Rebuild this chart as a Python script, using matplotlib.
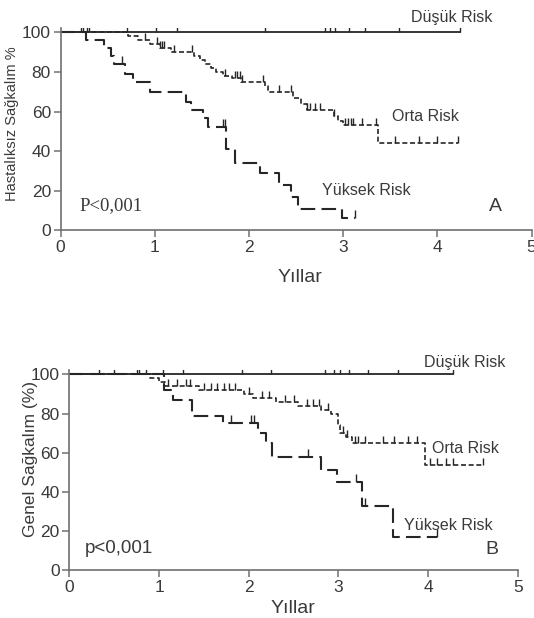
import numpy as np
import matplotlib
matplotlib.use("Agg")
import matplotlib.pyplot as plt

plt.rcParams['font.family'] = ['Liberation Sans', 'DejaVu Sans']

# ---- Panel A: Hastalıksız sağkalım ----
dusuk_a_end = 4.24
dusuk_a_cens = [0.22, 0.24, 1.01, 1.24, 2.17, 2.81, 2.86, 2.91, 3.06, 3.23, 3.59, 4.24]

orta_a_t = [0.72, 0.82, 0.95, 1.05, 1.17, 1.42, 1.48, 1.53, 1.60, 1.65, 1.72, 1.82,
            1.92, 2.17, 2.20, 2.47, 2.55, 2.62, 2.90, 2.95, 3.00, 3.37]
orta_a_s = [98, 96, 94, 92, 90, 88, 86, 84, 82, 80, 78, 77,
            75, 73, 70, 67, 64, 61, 58, 55, 53, 44]
orta_a_end = 4.22
orta_a_cens = [0.28, 0.30, 0.70, 0.90, 1.02, 1.05, 1.08, 1.10, 1.20, 1.40, 1.75, 1.85,
               1.87, 1.90, 1.93, 2.15, 2.32, 2.45, 2.62, 2.65, 2.70, 2.75, 2.90, 3.02,
               3.05, 3.08, 3.10, 3.20, 3.35, 3.55, 3.80, 4.00, 4.22]

yuksek_a_t = [0.27, 0.46, 0.53, 0.57, 0.68, 0.77, 0.95, 1.33, 1.38, 1.51, 1.56, 1.76,
              1.85, 2.12, 2.32, 2.45, 2.52, 2.99]
yuksek_a_s = [96, 92, 88, 84, 79, 75, 70, 65, 61, 57, 52, 41,
              34, 29, 23, 17, 11, 6]
yuksek_a_end = 3.12
yuksek_a_cens = [0.65, 1.72, 1.74, 3.12]

# ---- Panel B: Genel sağkalım ----
dusuk_b_end = 4.28
dusuk_b_cens = [0.78, 1.04, 1.27, 1.92, 2.25, 2.85, 2.95, 3.02, 3.12, 3.33, 3.66, 4.28]

orta_b_t = [0.90, 1.00, 1.07, 1.45, 1.95, 2.05, 2.30, 2.55, 2.80, 2.92, 3.00, 3.02,
            3.08, 3.15, 3.96]
orta_b_s = [98, 96, 94, 92, 90, 88, 86, 84, 82, 80, 74, 70,
            68, 65, 54]
orta_b_end = 4.61
orta_b_cens = [0.33, 0.50, 0.75, 0.85, 1.10, 1.20, 1.30, 1.35, 1.50, 1.58, 1.65, 1.72,
               1.78, 1.85, 2.00, 2.15, 2.22, 2.40, 2.50, 2.65, 2.72, 2.78, 2.88, 3.05,
               3.10, 3.18, 3.22, 3.30, 3.50, 3.62, 3.78, 3.88, 4.02, 4.10, 4.20, 4.28, 4.61]

yuksek_b_t = [1.05, 1.16, 1.37, 1.71, 2.10, 2.19, 2.26, 2.80, 2.98, 3.26, 3.61]
yuksek_b_s = [92, 87, 79, 75, 70, 65, 58, 51, 45, 33, 17]
yuksek_b_end = 4.10
yuksek_b_cens = [1.80, 2.02, 2.06, 2.66, 3.20, 3.30, 4.10]

x_ticks = [0, 1, 2, 3, 4, 5]
y_ticks = [0, 20, 40, 60, 80, 100]

LINE = '#262626'
AXC = '#707070'
TXT = '#3a3a3a'


def km_curve(ax, times, surv, end, cens, dashes, lw, msize):
    x = [0] + list(times) + [end]
    y = [100] + list(surv) + [surv[-1] if surv else 100]
    line, = ax.step(x, y, where='post', color=LINE, lw=lw)
    if dashes is not None:
        line.set_dashes(dashes)
    # censor marks sit on the curve
    idx = np.searchsorted(x, cens, side='right') - 1
    cy = np.array(y)[idx]
    ax.plot(cens, cy, ls='none', marker=2, ms=msize, mew=1.0, color=LINE)


def style_axes(ax):
    ax.set_xlim(0, 5)
    ax.set_ylim(0, 102)
    ax.set_xticks(x_ticks)
    ax.set_yticks(y_ticks)
    for s in ['top', 'right']:
        ax.spines[s].set_visible(False)
    for s in ['left', 'bottom']:
        ax.spines[s].set_color(AXC)
        ax.spines[s].set_linewidth(1.2)
    ax.tick_params(direction='out', length=5, width=1.1, color=AXC,
                   labelsize=12.5, labelcolor=TXT, pad=2)


fig = plt.figure(figsize=(5.34, 6.18), dpi=100)

axA = fig.add_axes([0.1135, 0.6273, 0.882, 0.3267])
km_curve(axA, [], [], dusuk_a_end, dusuk_a_cens, None, 1.3, 6)
km_curve(axA, orta_a_t, orta_a_s, orta_a_end, orta_a_cens, (3, 1.6), 1.2, 5)
km_curve(axA, yuksek_a_t, yuksek_a_s, yuksek_a_end, yuksek_a_cens, (7, 3), 1.5, 6)
style_axes(axA)
axA.set_ylabel('Hastalıksız Sağkalım %', fontsize=10.5, color=TXT)
axA.yaxis.set_label_coords(-0.088, 0.53)
axA.set_xlabel('Yıllar', fontsize=14, color=TXT)
axA.xaxis.set_label_coords(0.508, -0.19)
axA.text(4.58, 107.7, 'Düşük Risk', ha='right', va='center', fontsize=11.5,
         color=TXT, clip_on=False)
axA.text(3.52, 57.5, 'Orta Risk', ha='left', va='center', fontsize=11.5, color=TXT)
axA.text(2.78, 20, 'Yüksek Risk', ha='left', va='center', fontsize=11.5, color=TXT)
axA.text(0.2, 12.3, 'P<0,001', ha='left', va='center', fontsize=13.5,
         family='Liberation Serif', color=TXT)
axA.text(4.62, 11.9, 'A', ha='center', va='center', fontsize=14, color=TXT)

axB = fig.add_axes([0.130, 0.0772, 0.8397, 0.3233])
km_curve(axB, [], [], dusuk_b_end, dusuk_b_cens, None, 1.3, 6)
km_curve(axB, orta_b_t, orta_b_s, orta_b_end, orta_b_cens, (3, 1.6), 1.2, 5)
km_curve(axB, yuksek_b_t, yuksek_b_s, yuksek_b_end, yuksek_b_cens, (7, 3), 1.5, 6)
style_axes(axB)
axB.set_ylabel('Genel Sağkalım (%)', fontsize=12.5, color=TXT)
axB.yaxis.set_label_coords(-0.071, 0.557)
axB.set_xlabel('Yıllar', fontsize=14, color=TXT)
axB.xaxis.set_label_coords(0.498, -0.15)
axB.text(3.955, 106.3, 'Düşük Risk', ha='left', va='center', fontsize=11.5,
         color=TXT, clip_on=False)
axB.text(4.04, 62.3, 'Orta Risk', ha='left', va='center', fontsize=11.5, color=TXT)
axB.text(3.73, 23.1, 'Yüksek Risk', ha='left', va='center', fontsize=11.5, color=TXT)
axB.text(0.175, 11.1, 'p<0,001', ha='left', va='center', fontsize=13.5, color=TXT)
axB.text(4.71, 10.6, 'B', ha='center', va='center', fontsize=14, color=TXT)

fig.savefig('out.png', dpi=100)
